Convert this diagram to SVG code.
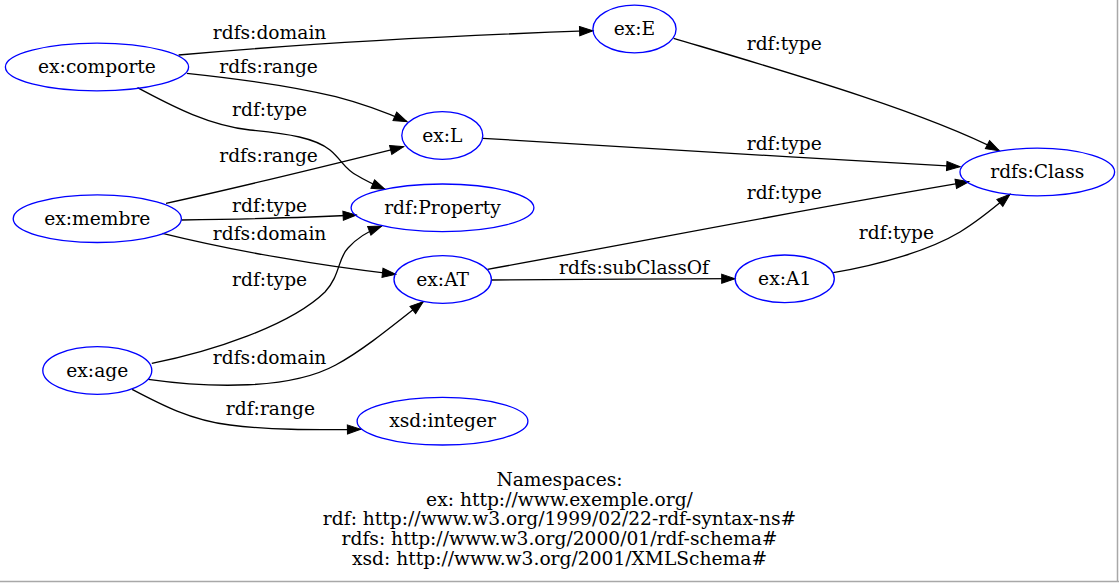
<svg xmlns="http://www.w3.org/2000/svg" width="1119" height="583" viewBox="0 0 1119 583">
<defs>
<marker id="arr" markerUnits="userSpaceOnUse" markerWidth="16" markerHeight="12" refX="13.3" refY="0" viewBox="0 -6 16 12" orient="auto" overflow="visible">
<path d="M0,-4.6 L13.3,0 L0,4.6 z" fill="#000" stroke="#000" stroke-width="1"/>
</marker>
</defs>
<style>
text{font-family:"DejaVu Serif","Liberation Serif",serif;font-size:18.67px;fill:#000;text-anchor:middle}
.node ellipse{fill:none;stroke:#0000ff;stroke-width:1.33}
.edges path{fill:none;stroke:#000;stroke-width:1.33;marker-end:url(#arr)}
</style>
<rect x="0" y="0" width="1119" height="583" fill="#fff"/>
<line x1="1117.5" y1="0" x2="1117.5" y2="582" stroke="#a8a8a8" stroke-width="1.5"/>
<line x1="0" y1="581.5" x2="1119" y2="581.5" stroke="#a8a8a8" stroke-width="1.5"/>
<g class="edges" id="edges">
<path d="M178.6,55 C300,44 440,36 592.9,30.7"/>
<path d="M186.8,73.3 C250,80 300,88 335.7,96.7 C360,103 385,112 407,121.7"/>
<path d="M137.5,87.7 C165,102 205,125 250,130 C290,134 315,138 330,150 C342,160 345,170 358,176 C366,181 375,185 385,189.3"/>
<path d="M166,203.3 C250,185 330,165 403.6,146.7"/>
<path d="M181.4,220 C250,219 300,218 356.4,215"/>
<path d="M162.5,233.3 C230,250 320,266 395.7,274.3"/>
<path d="M151.8,363.3 C210,352 290,326 325,292 C340,276 338,258 348,248 C356,239 366,232 381.7,226"/>
<path d="M148.2,379.3 C210,388 290,390 335.7,365 C360,352 385,332 423.2,301.7"/>
<path d="M132.1,389.3 C160,404 190,420 230,425 C270,430 310,430 360.7,429.3"/>
<path d="M482.9,138.3 C650,148 800,158 960,166.7"/>
<path d="M673.6,38.3 C780,70 920,110 999.3,150.7"/>
<path d="M487.5,269.3 C650,240 800,210 968.9,181.7"/>
<path d="M491.4,280 C580,279.5 650,279 735,278.7"/>
<path d="M833.2,272.7 C880,265 930,250 960,232 C980,220 995,207 1010,194.3"/>
<g id="edge-labels">
<text x="269.6" y="39">rdfs:domain</text>
<text x="268.6" y="72.5">rdfs:range</text>
<text x="269.6" y="115.5">rdf:type</text>
<text x="268.6" y="161.5">rdfs:range</text>
<text x="269.6" y="212">rdf:type</text>
<text x="269.6" y="239.5">rdfs:domain</text>
<text x="269.6" y="285.5">rdf:type</text>
<text x="269.6" y="364">rdfs:domain</text>
<text x="270.4" y="415">rdf:range</text>
<text x="784.3" y="50">rdf:type</text>
<text x="784.3" y="149.5">rdf:type</text>
<text x="784.3" y="199">rdf:type</text>
<text x="634" y="274">rdfs:subClassOf</text>
<text x="896.4" y="239">rdf:type</text>
</g>
</g>
<g class="node" id="n-comporte"><ellipse cx="97" cy="67" rx="91.6" ry="23.8"/><text x="97" y="73">ex:comporte</text></g>
<g class="node" id="n-E"><ellipse cx="634.5" cy="29" rx="41.6" ry="23.8"/><text x="634.5" y="35">ex:E</text></g>
<g class="node" id="n-L"><ellipse cx="442.3" cy="135.5" rx="40.5" ry="23.8"/><text x="442.3" y="141.5">ex:L</text></g>
<g class="node" id="n-Class"><ellipse cx="1037.3" cy="172" rx="77.3" ry="23.8"/><text x="1037.3" y="178">rdfs:Class</text></g>
<g class="node" id="n-Property"><ellipse cx="442.5" cy="207.8" rx="91.4" ry="23.8"/><text x="442.5" y="213.8">rdf:Property</text></g>
<g class="node" id="n-membre"><ellipse cx="97.3" cy="218.7" rx="84.1" ry="23.8"/><text x="97.3" y="224.7">ex:membre</text></g>
<g class="node" id="n-AT"><ellipse cx="442.7" cy="279.5" rx="48.7" ry="23.8"/><text x="442.7" y="285.5">ex:AT</text></g>
<g class="node" id="n-A1"><ellipse cx="784.7" cy="278.8" rx="49.6" ry="23.8"/><text x="784.7" y="284.8">ex:A1</text></g>
<g class="node" id="n-age"><ellipse cx="97.3" cy="370.5" rx="54.5" ry="23.8"/><text x="97.3" y="376.5">ex:age</text></g>
<g class="node" id="n-integer"><ellipse cx="442.5" cy="421.2" rx="85.4" ry="23.8"/><text x="442.5" y="427.2">xsd:integer</text></g>
<g id="namespaces">
<text x="559.5" y="486">Namespaces:</text>
<text x="559.5" y="505.7">ex: http://www.exemple.org/</text>
<text x="559.5" y="525.4">rdf: http://www.w3.org/1999/02/22-rdf-syntax-ns#</text>
<text x="559.5" y="545.1">rdfs: http://www.w3.org/2000/01/rdf-schema#</text>
<text x="559.5" y="564.8">xsd: http://www.w3.org/2001/XMLSchema#</text>
</g>
</svg>
